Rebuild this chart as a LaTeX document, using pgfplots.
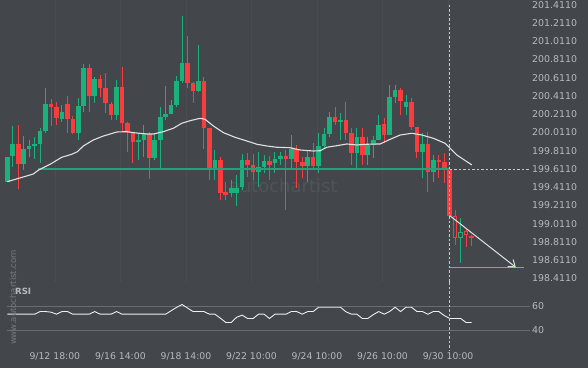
\documentclass[border=0pt]{standalone}
\usepackage{fontspec}
\setmainfont{DejaVu Sans}
\usepackage{pgfplots}
\usepackage{pgfplotstable}
\pgfplotsset{compat=1.18}
\usetikzlibrary{arrows.meta}
\definecolor{bgc}{RGB}{67,70,75}
\definecolor{txt}{RGB}{182,185,189}
\definecolor{cgreen}{RGB}{25,178,125}
\definecolor{cred}{RGB}{250,60,60}
\definecolor{teal1}{RGB}{36,160,122}
\definecolor{mac}{RGB}{225,225,225}
\definecolor{rsil}{RGB}{238,238,238}
\definecolor{rsig}{RGB}{105,108,112}
\definecolor{dashc}{RGB}{200,200,200}
\definecolor{orng}{RGB}{230,130,80}
\definecolor{wm}{RGB}{80,83,88}
\definecolor{wmv}{RGB}{118,121,126}
\definecolor{gridc}{RGB}{73,76,81}

\pgfplotstableread{
x o h l c
0 199.472 199.746 199.472 199.746
1 199.757 200.082 199.636 199.882
3 199.666 199.976 199.600 199.830
4 199.830 199.929 199.746 199.863
5 199.863 199.965 199.721 199.882
6 199.882 200.057 199.673 200.027
7 200.027 200.495 200.009 200.320
10 200.155 200.312 200.129 200.232
13 200.002 200.385 199.929 200.301
14 200.301 200.761 200.239 200.714
16 200.411 200.622 200.331 200.597
20 200.203 200.586 200.148 200.506
24 199.910 200.002 199.710 199.929
25 199.929 200.093 199.746 200.002
27 199.728 200.002 199.710 199.929
28 199.929 200.287 199.600 200.184
29 200.184 200.520 200.148 200.213
30 200.213 200.367 200.213 200.312
31 200.312 200.630 200.293 200.575
32 200.575 201.287 200.550 200.775
35 200.469 200.969 200.458 200.575
38 199.600 199.819 199.491 199.710
41 199.343 199.491 199.304 199.400
42 199.354 199.545 199.206 199.408
43 199.417 199.775 199.381 199.710
46 199.581 199.801 199.417 199.636
47 199.636 199.764 199.564 199.699
49 199.673 199.801 199.564 199.717
50 199.717 199.801 199.655 199.753
52 199.717 199.983 199.600 199.830
55 199.647 199.811 199.472 199.739
57 199.647 200.002 199.571 199.866
58 199.866 200.057 199.838 199.994
59 199.994 200.239 199.965 200.177
61 200.129 200.224 199.929 200.148
64 199.783 200.057 199.611 199.965
66 199.764 199.965 199.655 199.874
67 199.874 199.972 199.732 199.929
68 199.929 200.203 199.929 200.093
70 199.983 200.531 199.983 200.396
71 200.396 200.531 200.331 200.476
73 200.293 200.421 200.203 200.348
76 199.801 200.002 199.509 199.885
78 199.581 199.764 199.472 199.710
}\greentab

\pgfplotstableread{
x o h l c
2 199.882 200.093 199.389 199.666
8 200.320 200.374 200.082 200.287
9 200.287 200.348 200.093 200.173
11 200.320 200.411 200.009 200.159
12 200.159 200.192 199.994 200.002
15 200.714 200.761 200.239 200.411
17 200.597 200.641 200.403 200.498
18 200.498 200.659 200.221 200.331
19 200.323 200.348 200.148 200.203
21 200.506 200.725 200.020 200.118
22 200.118 200.129 199.801 200.002
23 200.002 200.020 199.673 199.910
26 199.994 200.020 199.498 199.728
33 200.775 201.068 200.495 200.556
34 200.556 200.567 200.331 200.469
36 200.575 200.615 199.830 200.063
37 200.063 200.063 199.491 199.600
39 199.710 199.746 199.272 199.345
40 199.359 199.469 199.272 199.332
44 199.710 199.783 199.527 199.655
45 199.655 199.775 199.491 199.581
48 199.699 199.753 199.491 199.655
51 199.753 199.819 199.162 199.717
53 199.830 199.874 199.400 199.691
54 199.691 199.746 199.509 199.647
56 199.739 199.899 199.600 199.647
60 200.177 200.287 200.093 200.129
62 200.148 200.348 199.929 200.002
63 200.002 200.057 199.655 199.783
65 199.965 200.057 199.655 199.764
69 200.101 200.166 199.893 199.983
72 200.476 200.495 200.203 200.359
74 200.348 200.385 200.038 200.074
75 200.074 200.074 199.728 199.801
77 199.885 200.020 199.362 199.581
79 199.710 199.764 199.509 199.691
80 199.691 199.783 199.454 199.600
81 199.600 199.600 199.100 199.100
85 198.870 198.888 198.768 198.863
}\redtab

\pgfplotstableread{
x o h l c
82 199.096 199.162 198.779 198.852
84 198.932 198.954 198.760 198.888
}\hredtab

\pgfplotstableread{
x o h l c
83 198.852 199.071 198.585 198.924
}\hgreentab

\pgfplotstableread{
x r
0 53.6
1 53.6
2 53.6
3 53.6
4 53.6
5 53.6
6 55.8
7 55.8
8 55.3
9 53.6
10 55.8
11 55.8
12 53.6
13 53.6
14 53.6
15 53.6
16 55.8
17 53.6
18 53.6
19 53.6
20 55.8
21 53.6
22 53.6
23 53.6
24 53.6
25 53.6
26 53.6
27 53.6
28 53.6
29 53.6
30 56.5
31 59.3
32 61.7
33 58.7
34 55.8
35 55.8
36 55.8
37 53.6
38 53.6
39 50.3
40 46.7
41 46.7
42 51.1
43 52.8
44 50.0
45 50.0
46 53.6
47 53.6
48 50.0
49 53.6
50 53.6
51 53.6
52 55.8
53 55.8
54 53.6
55 55.8
56 55.8
57 59.4
58 59.4
59 59.4
60 59.4
61 59.4
62 55.6
63 53.6
64 53.6
65 50.0
66 50.0
67 53.2
68 55.8
69 53.6
70 55.8
71 59.4
72 55.8
73 59.4
74 59.4
75 55.8
76 55.8
77 53.6
78 55.8
79 55.8
80 52.5
81 50.0
82 50.0
83 50.0
84 46.7
85 46.7
}\rsitab

\pgfplotstableread{
x m
0 199.472
4.76 199.556
5.73 199.600
7.82 199.662
9.96 199.739
11.79 199.772
12.82 199.800
13.92 199.863
15.75 199.929
17.58 199.972
20.04 200.016
21.87 200.020
23.08 200.009
25.53 199.994
26.74 199.994
28.57 200.020
30.40 200.057
31.94 200.112
33.46 200.140
35.29 200.166
36.21 200.155
37.73 200.082
39.56 200.009
41.70 199.958
43.85 199.918
45.68 199.882
47.51 199.863
49.34 199.849
51.78 199.844
53.61 199.819
56.04 199.808
57.27 199.811
58.50 199.849
60.33 199.866
62.16 199.885
63.99 199.874
65.82 199.882
68.26 199.885
70.09 199.936
71.92 199.983
74.07 200.002
75.90 199.983
78.02 199.947
80.16 199.892
82.31 199.764
85.05 199.655
}\matab

\pgfplotsset{
  wick/.style={forget plot, draw=none, mark=none,
    error bars/.cd, y dir=both, y explicit, error mark=none,
    error bar style={line width=1pt, draw=#1}},
  body/.style={forget plot, draw=none, mark=none,
    error bars/.cd, y dir=both, y explicit, error mark=none,
    error bar style={line width=4.6pt, draw=#1}},
  inner/.style={forget plot, draw=none, mark=none,
    error bars/.cd, y dir=both, y explicit, error mark=none,
    error bar style={line width=2.6pt, draw=bgc}},
}

\begin{document}
\begin{tikzpicture}
\path[use as bounding box, fill=bgc] (0pt,0pt) rectangle (588pt,368pt);

\begin{axis}[
  at={(0pt,86pt)}, anchor=south west,
  width=530pt, height=282pt, scale only axis,
  xmin=-1.34, xmax=95.7, ymin=198.373, ymax=201.462,
  axis line style={draw=none},
  major tick length=0pt,
  xtick={8.7,20.7,32.7,44.7,56.7,68.7,80.7}, xticklabels={},
  xmajorgrids, grid style={draw=gridc, line width=0.6pt},
  ytick={198.411,198.611,198.811,199.011,199.211,199.411,199.611,199.811,200.011,200.211,200.411,200.611,200.811,201.011,201.211,201.411},
  yticklabels={198.4110,198.6110,198.8110,199.0110,199.2110,199.4110,199.6110,199.8110,200.0110,200.2110,200.4110,200.6110,200.8110,201.0110,201.2110,201.4110},
  yticklabel pos=right,
  yticklabel style={anchor=base west, inner sep=0pt, xshift=2pt, yshift=-3.4pt, font=\fontsize{9.4}{10}\selectfont, text=txt},
]
\node[font=\fontsize{18}{20}\selectfont, text=wm] at (axis cs:50.5,199.425) {autochartist};

% wicks
\addplot[wick=cgreen] table[x=x, y expr={(\thisrow{h}+\thisrow{l})/2}, y error expr={(\thisrow{h}-\thisrow{l})/2}] {\greentab};
\addplot[wick=cred] table[x=x, y expr={(\thisrow{h}+\thisrow{l})/2}, y error expr={(\thisrow{h}-\thisrow{l})/2}] {\redtab};
\addplot[wick=cred] table[x=x, y expr={(\thisrow{h}+\thisrow{l})/2}, y error expr={(\thisrow{h}-\thisrow{l})/2}] {\hredtab};
\addplot[wick=cgreen] table[x=x, y expr={(\thisrow{h}+\thisrow{l})/2}, y error expr={(\thisrow{h}-\thisrow{l})/2}] {\hgreentab};
% bodies
\addplot[body=cgreen] table[x=x, y expr={(\thisrow{o}+\thisrow{c})/2}, y error expr={max(abs(\thisrow{o}-\thisrow{c})/2,0.006)}] {\greentab};
\addplot[body=cred] table[x=x, y expr={(\thisrow{o}+\thisrow{c})/2}, y error expr={max(abs(\thisrow{o}-\thisrow{c})/2,0.006)}] {\redtab};
\addplot[body=cred] table[x=x, y expr={(\thisrow{o}+\thisrow{c})/2}, y error expr={max(abs(\thisrow{o}-\thisrow{c})/2,0.006)}] {\hredtab};
\addplot[body=cgreen] table[x=x, y expr={(\thisrow{o}+\thisrow{c})/2}, y error expr={max(abs(\thisrow{o}-\thisrow{c})/2,0.006)}] {\hgreentab};
\addplot[inner] table[x=x, y expr={(\thisrow{o}+\thisrow{c})/2}, y error expr={max(abs(\thisrow{o}-\thisrow{c})/2-0.011,0.001)}] {\hredtab};
\addplot[inner] table[x=x, y expr={(\thisrow{o}+\thisrow{c})/2}, y error expr={max(abs(\thisrow{o}-\thisrow{c})/2-0.011,0.001)}] {\hgreentab};

% support line
\addplot[teal1, line width=2.4pt, forget plot] coordinates {(5.6,199.611) (81,199.611)};
% moving average
\addplot[mac, line width=1.1pt, forget plot] table[x=x, y=m] {\matab};
% dashed lines
\addplot[dashc, line width=0.7pt, dash pattern=on 2.5pt off 2pt, forget plot] coordinates {(81,199.611) (95.7,199.611)};
\addplot[dashc, line width=0.7pt, dash pattern=on 2.5pt off 2pt, forget plot] coordinates {(81,201.41) (81,198.373)};
% target
\addplot[orng, line width=1.2pt, forget plot] coordinates {(81,198.534) (94.6,198.534)};
\addplot[mac, line width=1pt, -{Straight Barb[length=6pt,width=9pt]}, forget plot] coordinates {(81,199.100) (93.1,198.534)};
\end{axis}

\begin{axis}[
  at={(0pt,18pt)}, anchor=south west,
  width=530pt, height=68pt, scale only axis,
  xmin=-1.34, xmax=95.7, ymin=23.75, ymax=80.42,
  axis line style={draw=none},
  major tick length=0pt,
  xtick={8.7,20.7,32.7,44.7,56.7,68.7,80.7},
  xticklabels={9/12 18:00,9/16 14:00,9/18 14:00,9/22 10:00,9/24 10:00,9/26 10:00,9/30 10:00},
  xticklabel style={anchor=base, inner sep=0pt, yshift=-9.5pt, font=\fontsize{9.3}{10}\selectfont, text=txt},
  ytick={40,60}, yticklabels={40,60},
  yticklabel pos=right,
  yticklabel style={anchor=base west, inner sep=0pt, xshift=2pt, yshift=-3.4pt, font=\fontsize{9.4}{10}\selectfont, text=txt},
]
\addplot[rsig, line width=0.8pt, forget plot] coordinates {(0,60) (95.7,60)};
\addplot[rsig, line width=0.8pt, forget plot] coordinates {(0,40) (95.7,40)};
\addplot[rsil, line width=0.9pt, forget plot] table[x=x, y=r] {\rsitab};
\addplot[dashc, line width=0.7pt, dash pattern=on 2.5pt off 2pt, forget plot] coordinates {(81,80.42) (81,23.75)};
\node[font=\bfseries\fontsize{8.6}{10}\selectfont, text=txt] at (axis cs:2.9,72.9) {RSI};
\end{axis}

\node[rotate=90, font=\fontsize{8.5}{10}\selectfont, text=wmv] at (13pt,70.5pt) {www.autochartist.com};
\end{tikzpicture}
\end{document}
